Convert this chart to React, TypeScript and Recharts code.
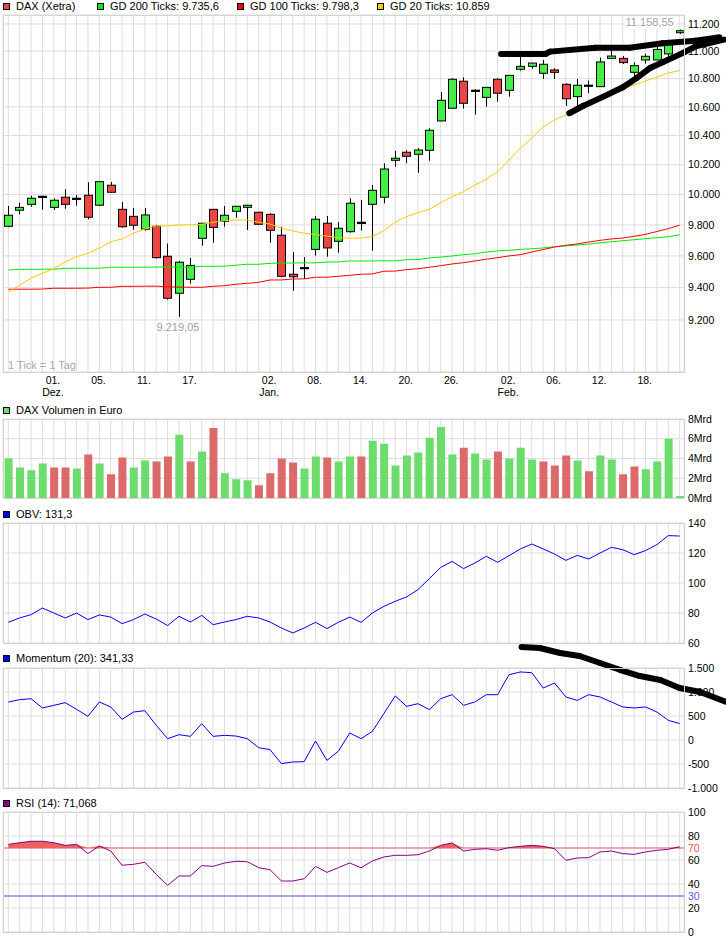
import React from "react";
import {
  Area,
  Bar,
  CartesianGrid,
  Cell,
  ComposedChart,
  Line,
  ReferenceDot,
  ReferenceLine,
  XAxis,
  YAxis,
} from "recharts";

// DAX (Xetra), one candle per trading day, late Nov 2014 .. Feb 2015
const opens = [
  9791, 9896, 9935, 9985, 9915, 9982, 9972, 9995, 9929, 10062,
  9902, 9856, 9772, 9791, 9598, 9365, 9452, 9713, 9902, 9824,
  9889, 9915, 9883, 9869, 9733, 9484, 9523, 9642, 9811, 9694,
  9756, 9814, 9935, 9982, 10230, 10285, 10271, 10298, 10501, 10590,
  10782, 10714, 10667, 10796, 10717, 10868, 10889, 10839, 10863, 10760,
  10672, 10750, 10743, 10947, 10947, 10846, 10935, 10935, 10979, 11135,
];
const highs = [
  9924, 9946, 9992, 9992, 9975, 10035, 9997, 10082, 10090, 10084,
  9950, 9911, 9911, 9800, 9679, 9568, 9587, 9812, 9903, 9924,
  9923, 9930, 9884, 9876, 9788, 9625, 9592, 9858, 9858, 9819,
  9975, 9964, 10064, 10210, 10294, 10300, 10314, 10450, 10705, 10803,
  10810, 10724, 10739, 10803, 10825, 10957, 10914, 10935, 10875, 10767,
  10798, 10786, 10953, 11008, 10964, 10918, 10981, 11030, 11074, 11158.55,
];
const lows = [
  9785, 9869, 9919, 9900, 9898, 9906, 9926, 9837, 9925, 10012,
  9782, 9769, 9763, 9583, 9325, 9219.05, 9425, 9666, 9685, 9788,
  9847, 9767, 9803, 9685, 9465, 9381, 9456, 9602, 9595, 9621,
  9750, 9763, 9634, 9942, 10187, 10210, 10146, 10227, 10500, 10589,
  10587, 10545, 10601, 10636, 10672, 10858, 10872, 10798, 10798, 10606,
  10606, 10696, 10742, 10946, 10906, 10773, 10909, 10934, 10946, 11126,
];
const closes = [
  9863, 9915, 9975, 9985, 9962, 9935, 9972, 9850, 10086, 10015,
  9788, 9798, 9865, 9589, 9334, 9560, 9540, 9811, 9784, 9863,
  9922, 9929, 9804, 9765, 9471, 9468, 9523, 9837, 9651, 9778,
  9942, 9814, 10028, 10171, 10244, 10257, 10300, 10436, 10646, 10796,
  10625, 10714, 10738, 10696, 10824, 10889, 10913, 10904, 10846, 10657,
  10753, 10750, 10921, 10964, 10916, 10894, 10962, 11012, 11048, 11150,
];
const gd20 = [
  9371, 9415, 9459, 9490, 9519, 9562, 9595, 9617, 9649, 9691,
  9709, 9746, 9774, 9793, 9793, 9800, 9800, 9804, 9817, 9828,
  9832, 9832, 9817, 9806, 9778, 9761, 9746, 9737, 9728, 9717,
  9714, 9714, 9724, 9763, 9817, 9854, 9880, 9902, 9946, 9986,
  10019, 10064, 10102, 10153, 10232, 10312, 10383, 10459, 10508, 10543,
  10578, 10613, 10648, 10691, 10727, 10755, 10784, 10811, 10841, 10859,
];
const gd100 = [
  9390, 9390, 9390, 9391, 9396, 9396, 9396, 9397, 9402, 9402,
  9408, 9408, 9409, 9409, 9405, 9403, 9402, 9402, 9408, 9412,
  9421, 9427, 9433, 9448, 9448, 9454, 9455, 9465, 9465, 9471,
  9477, 9484, 9486, 9503, 9504, 9513, 9519, 9528, 9538, 9549,
  9557, 9568, 9579, 9589, 9600, 9608, 9625, 9641, 9657, 9668,
  9677, 9689, 9700, 9709, 9715, 9726, 9739, 9757, 9776, 9798.3,
];
const gd200 = [
  9511, 9515, 9515, 9516, 9516, 9521, 9522, 9522, 9522, 9528,
  9528, 9528, 9529, 9529, 9530, 9530, 9530, 9534, 9534, 9535,
  9541, 9547, 9547, 9553, 9555, 9555, 9556, 9556, 9561, 9562,
  9568, 9568, 9568, 9569, 9569, 9576, 9577, 9587, 9593, 9600,
  9608, 9614, 9625, 9632, 9636, 9642, 9646, 9651, 9659, 9664,
  9670, 9676, 9684, 9691, 9698, 9704, 9711, 9717, 9724, 9735.6,
];
// Volumen in Mrd Euro
const volumes = [
  4.0, 3.1, 2.8, 3.5, 3.1, 3.1, 3.0, 4.4, 3.5, 2.4,
  4.1, 3.1, 3.8, 3.7, 4.2, 6.4, 3.7, 4.7, 7.1, 2.5,
  1.9, 1.8, 1.3, 2.5, 4.0, 3.6, 3.0, 4.2, 4.1, 3.7,
  4.2, 4.2, 5.8, 5.5, 3.3, 4.3, 4.6, 6.1, 7.2, 4.4,
  5.1, 4.5, 3.9, 4.7, 4.0, 5.1, 3.9, 3.7, 3.3, 4.3,
  3.8, 2.7, 4.3, 3.9, 2.4, 3.2, 2.9, 3.7, 6.0, 0.2,
];
const obv = [
  73.8, 76.7, 78.9, 83.3, 80.0, 76.7, 80.0, 75.6, 78.7, 77.3,
  72.9, 75.6, 79.3, 76.0, 71.6, 77.8, 74.0, 78.4, 72.2, 74.0,
  75.6, 77.8, 76.7, 74.0, 70.0, 66.7, 70.0, 73.8, 69.6, 73.8,
  77.3, 73.8, 80.0, 84.4, 87.8, 90.7, 95.6, 102.9, 110.4, 114.4,
  109.6, 113.3, 117.8, 113.8, 118.2, 122.7, 126.0, 122.7, 119.3, 115.1,
  118.4, 116.0, 120.0, 123.8, 122.2, 118.9, 121.6, 125.6, 131.6, 131.3,
];
const momentum = [
  791, 840, 861, 667, 722, 778, 639, 493, 792, 688,
  431, 583, 611, 306, 28, 111, 76, 340, 76, 97,
  83, 28, -160, -201, -493, -458, -451, -21, -424, -236,
  146, 28, 181, 549, 917, 701, 757, 632, 861, 944,
  722, 792, 944, 944, 1361, 1417, 1403, 1083, 1188, 896,
  826, 944, 896, 792, 688, 667, 688, 583, 410, 341.33,
];
const rsi = [
  73.0, 74.4, 75.6, 75.6, 74.4, 72.2, 73.0, 65.3, 71.7, 67.5,
  55.6, 56.4, 58.1, 48.0, 38.9, 46.7, 46.7, 55.3, 54.7, 57.5,
  58.9, 58.6, 53.6, 51.9, 42.5, 42.5, 44.4, 54.7, 49.7, 53.6,
  57.5, 53.6, 59.2, 62.5, 63.9, 63.9, 64.4, 67.5, 72.2, 74.2,
  67.5, 68.9, 69.4, 68.1, 70.3, 71.4, 72.2, 71.4, 69.4, 59.7,
  61.7, 61.9, 66.7, 67.5, 65.3, 64.7, 66.7, 68.1, 68.9, 71.068,
];

// date labels under the price chart
const tickIdx = [3, 7, 11, 15, 22, 26, 30, 34, 38, 43, 47, 51, 55];
const tickDays = ["01.", "05.", "11.", "17.", "02.", "08.", "14.", "20.", "26.", "02.", "06.", "12.", "18."];
const tickMonths = ["Dez.", "", "", "", "Jan.", "", "", "", "", "Feb.", "", "", ""];

const priceTicks = [9200, 9400, 9600, 9800, 10000, 10200, 10400, 10600, 10800, 11000, 11200];
const volTicks = [0, 2, 4, 6, 8];
const obvTicks = [60, 80, 100, 120, 140];
const momTicks = [-1000, -500, 0, 500, 1000, 1500];
const rsiTicks = [0, 20, 30, 40, 60, 70, 80, 100];

const mainLegend = [
  { label: "DAX (Xetra)", color: "#ee4444" },
  { label: "GD 200 Ticks: 9.735,6", color: "#00ee00" },
  { label: "GD 100 Ticks: 9.798,3", color: "#ff0000" },
  { label: "GD 20 Ticks: 10.859", color: "#ffcc00" },
];

// hand drawn trend strokes, in data coordinates [day index, value]
const upperStroke = [[43.3, 10979], [47.2, 10979], [47.6, 10996], [51.6, 11025], [54.6, 11025], [57.5, 11057], [60.4, 11076], [62.5, 11101]];
const lowerStroke = [[49.3, 10555], [50.5, 10606], [52.3, 10672], [54.0, 10739], [55.2, 10804], [56.4, 10877], [57.5, 10919], [59.3, 10987], [60.4, 11035], [62.9, 11084]];
const momStroke = [[45.1, 1937], [46.7, 1917], [48.5, 1812], [50.2, 1750], [52.0, 1604], [53.8, 1458], [55.5, 1333], [57.3, 1250], [59.0, 1083], [60.8, 1000], [63.1, 792]];

const rows = opens.map((open, i) => ({
  idx: i,
  open,
  high: highs[i],
  low: lows[i],
  close: closes[i],
  gd20: gd20[i],
  gd100: gd100[i],
  gd200: gd200[i],
  vol: volumes[i],
  up: i === 0 || closes[i] > closes[i - 1],
  obv: obv[i],
  mom: momentum[i],
  rsi: rsi[i],
}));
const allIdx = rows.map((r) => r.idx);

const FONT = '"Liberation Sans", Arial, sans-serif';
const FS = 10.5;
const GRID = "#dddddd";
const X_DOMAIN: [number, number] = [-0.466, 59.378];
const W = 726;
const MARGIN_L = 3;
const AXIS_W = 42;

const de = (n: number) => {
  const s = String(Math.abs(n)).replace(/\B(?=(\d{3})+(?!\d))/g, ".");
  return (n < 0 ? "-" : "") + s;
};

const maxHighIdx = highs.indexOf(Math.max(...highs));
const minLowIdx = lows.indexOf(Math.min(...lows));
const deDec = (n: number) => {
  const [a, b] = n.toFixed(2).split(".");
  return de(Number(a)) + "," + b;
};

const CandleShape = (props: any) => {
  const { x, y, width, height, payload } = props;
  if (x == null || y == null || !payload) return <g />;
  const top = Math.min(y, y + height);
  const h = Math.abs(height);
  const { open, close, high, low } = payload;
  const lh = Math.log(high);
  const span = lh - Math.log(low);
  const toY = (v: number) => top + (span > 0 ? ((lh - Math.log(v)) / span) * h : 0);
  const cx = Math.round(x + width / 2) + 0.5;
  const yo = toY(open);
  const yc = toY(close);
  const wick = <line x1={cx} y1={top} x2={cx} y2={top + h} stroke="#000" strokeWidth={1} />;
  if (open === close) {
    return (
      <g>
        {wick}
        <rect x={cx - 4.5} y={yo - 1} width={9} height={2.2} fill="#000" />
      </g>
    );
  }
  return (
    <g>
      {wick}
      <rect
        x={cx - 4}
        y={Math.min(yo, yc)}
        width={8}
        height={Math.max(1, Math.abs(yo - yc))}
        fill={close > open ? "#44ee44" : "#ee4444"}
        stroke="#000"
        strokeWidth={1}
      />
    </g>
  );
};

const DateTick = (props: any) => {
  const { x, y, payload } = props;
  const k = tickIdx.indexOf(payload.value);
  if (k < 0) return <g />;
  return (
    <g>
      <text x={x + 10.5} y={y + 12} textAnchor="middle" fontSize={FS} fill="#000">
        {tickDays[k]}
      </text>
      {tickMonths[k] ? (
        <text x={x + 10.5} y={y + 23.5} textAnchor="middle" fontSize={FS} fill="#000">
          {tickMonths[k]}
        </text>
      ) : null}
    </g>
  );
};

const RsiTick = (props: any) => {
  const { x, y, payload } = props;
  const v = payload.value;
  const fill = v === 70 ? "#f05050" : v === 30 ? "#5a5af0" : "#000";
  return (
    <text x={x} y={y} dy="0.355em" textAnchor="start" fontSize={FS} fill={fill}>
      {v}
    </text>
  );
};

const strokeLines = (pts: number[][], key: string) =>
  pts.slice(1).map((p, i) => (
    <ReferenceLine
      key={`${key}-${i}`}
      segment={[
        { x: pts[i][0], y: pts[i][1] },
        { x: p[0], y: p[1] },
      ]}
      stroke="#000"
      strokeWidth={6}
      strokeLinecap="round"
      ifOverflow="visible"
    />
  ));

function Legend({ items, top }: { items: { label: string; color: string; x?: number }[]; top: number }) {
  return (
    <>
      {items.map((it, i) => (
        <div
          key={i}
          style={{
            position: "absolute",
            left: it.x ?? 3,
            top,
            height: 12,
            display: "flex",
            alignItems: "center",
            fontSize: 11,
            whiteSpace: "nowrap",
          }}
        >
          <span
            style={{
              width: 5,
              height: 5,
              border: "1px solid #000",
              background: it.color,
              marginRight: 6,
              display: "inline-block",
            }}
          />
          {it.label}
        </div>
      ))}
    </>
  );
}

function Frame({ top, height }: { top: number; height: number }) {
  return (
    <div
      style={{
        position: "absolute",
        left: 2.5,
        top: top - 0.5,
        width: 682,
        height: height + 1,
        border: "1px solid #d4d4d4",
        boxSizing: "border-box",
        pointerEvents: "none",
      }}
    />
  );
}

export default function App() {
  const legendX = [3, 97, 237, 377];
  return (
    <div
      style={{
        position: "absolute",
        left: 0,
        top: 0,
        width: W,
        height: 940,
        background: "#fff",
        fontFamily: FONT,
        color: "#000",
      }}
    >
      <style>{`.recharts-wrapper, .recharts-surface { overflow: visible !important; }`}</style>

      {/* price chart */}
      <div style={{ position: "absolute", left: 0, top: 0 }}>
        <ComposedChart
          width={W}
          height={400}
          data={rows}
          margin={{ top: 15, right: 0, left: MARGIN_L, bottom: 0 }}
        >
          <CartesianGrid stroke={GRID} />
          <XAxis
            type="number"
            dataKey="idx"
            domain={X_DOMAIN}
            allowDataOverflow
            ticks={allIdx}
            interval={0}
            tick={<DateTick />}
            tickLine={false}
            axisLine={false}
            tickSize={0}
            tickMargin={0}
            height={28}
          />
          <YAxis
            orientation="right"
            scale="log"
            domain={[8887.4, 11267]}
            allowDataOverflow
            ticks={priceTicks}
            interval={0}
            tickFormatter={de}
            width={AXIS_W}
            tickLine={false}
            axisLine={false}
            tickSize={2}
            tickMargin={2}
            tick={{ fontSize: FS, fill: "#000" }}
          />
          <Line dataKey="gd200" stroke="#00ee00" strokeWidth={1} dot={false} activeDot={false} isAnimationActive={false} />
          <Line dataKey="gd100" stroke="#ff0000" strokeWidth={1} dot={false} activeDot={false} isAnimationActive={false} />
          <Line dataKey="gd20" stroke="#ffcc00" strokeWidth={1} dot={false} activeDot={false} isAnimationActive={false} />
          <Bar
            dataKey={(d: any) => [d.low, d.high]}
            barSize={9}
            shape={<CandleShape />}
            isAnimationActive={false}
          />
          <ReferenceDot
            x={minLowIdx}
            y={lows[minLowIdx]}
            r={1}
            ifOverflow="visible"
            shape={(p: any) => (
              <g>
                <rect x={p.cx - 23} y={p.cy + 4} width={44} height={13} fill="#fff" />
                <text x={p.cx - 1} y={p.cy + 14} textAnchor="middle" fontSize={11} fill="#a0a0a0">
                  {deDec(lows[minLowIdx])}
                </text>
              </g>
            )}
          />
          <ReferenceDot
            x={maxHighIdx}
            y={highs[maxHighIdx]}
            r={1}
            ifOverflow="visible"
            shape={(p: any) => (
              <g>
                <rect x={p.cx - 54} y={p.cy - 14} width={50} height={13} fill="#fff" />
                <text x={p.cx - 6} y={p.cy - 3.5} textAnchor="end" fontSize={11} fill="#a0a0a0">
                  {deDec(highs[maxHighIdx])}
                </text>
              </g>
            )}
          />
          {strokeLines(upperStroke, "up")}
          {strokeLines(lowerStroke, "lo")}
        </ComposedChart>
      </div>
      <Frame top={15} height={357} />
      <Legend items={mainLegend.map((m, i) => ({ ...m, x: legendX[i] }))} top={0} />
      <div style={{ position: "absolute", left: 8, top: 359, fontSize: 11, color: "#a8a8a8" }}>1 Tick = 1 Tag</div>

      {/* volume */}
      <div style={{ position: "absolute", left: 0, top: 400 }}>
        <ComposedChart
          width={W}
          height={100}
          data={rows}
          margin={{ top: 19, right: 0, left: MARGIN_L, bottom: 2 }}
        >
          <CartesianGrid stroke={GRID} />
          <XAxis type="number" dataKey="idx" domain={X_DOMAIN} allowDataOverflow ticks={allIdx} interval={0} hide />
          <YAxis
            orientation="right"
            domain={[0, 8]}
            ticks={volTicks}
            interval={0}
            tickFormatter={(v: number) => `${v}Mrd`}
            width={AXIS_W}
            tickLine={false}
            axisLine={false}
            tickSize={2}
            tickMargin={2}
            tick={{ fontSize: FS, fill: "#000" }}
          />
          <Bar dataKey="vol" barSize={8} isAnimationActive={false}>
            {rows.map((r) => (
              <Cell key={r.idx} fill={r.up ? "#6cdc6c" : "#dc6a6a"} />
            ))}
          </Bar>
        </ComposedChart>
      </div>
      <Frame top={419} height={79} />
      <Legend items={[{ label: "DAX Volumen in Euro", color: "#6cdc6c" }]} top={404} />

      {/* OBV */}
      <div style={{ position: "absolute", left: 0, top: 500 }}>
        <ComposedChart
          width={W}
          height={145}
          data={rows}
          margin={{ top: 23, right: 0, left: MARGIN_L, bottom: 2 }}
        >
          <CartesianGrid stroke={GRID} />
          <XAxis type="number" dataKey="idx" domain={X_DOMAIN} allowDataOverflow ticks={allIdx} interval={0} hide />
          <YAxis
            orientation="right"
            domain={[60, 140]}
            ticks={obvTicks}
            interval={0}
            width={AXIS_W}
            tickLine={false}
            axisLine={false}
            tickSize={2}
            tickMargin={2}
            tick={{ fontSize: FS, fill: "#000" }}
          />
          <Line dataKey="obv" stroke="#0000ff" strokeWidth={1} dot={false} activeDot={false} isAnimationActive={false} />
        </ComposedChart>
      </div>
      <Frame top={523} height={120} />
      <Legend items={[{ label: "OBV: 131,3", color: "#0000ee" }]} top={508} />

      {/* Momentum */}
      <div style={{ position: "absolute", left: 0, top: 645 }}>
        <ComposedChart
          width={W}
          height={145}
          data={rows}
          margin={{ top: 23, right: 0, left: MARGIN_L, bottom: 2 }}
        >
          <CartesianGrid stroke={GRID} />
          <XAxis type="number" dataKey="idx" domain={X_DOMAIN} allowDataOverflow ticks={allIdx} interval={0} hide />
          <YAxis
            orientation="right"
            domain={[-1000, 1500]}
            ticks={momTicks}
            interval={0}
            tickFormatter={de}
            width={AXIS_W}
            tickLine={false}
            axisLine={false}
            tickSize={2}
            tickMargin={2}
            tick={{ fontSize: FS, fill: "#000" }}
          />
          <Line dataKey="mom" stroke="#0000ff" strokeWidth={1} dot={false} activeDot={false} isAnimationActive={false} />
          {strokeLines(momStroke, "mo")}
        </ComposedChart>
      </div>
      <Frame top={668} height={120} />
      <Legend items={[{ label: "Momentum (20): 341,33", color: "#0000ee" }]} top={652} />

      {/* RSI */}
      <div style={{ position: "absolute", left: 0, top: 790 }}>
        <ComposedChart
          width={W}
          height={150}
          data={rows}
          margin={{ top: 22, right: 0, left: MARGIN_L, bottom: 8 }}
        >
          <CartesianGrid stroke={GRID} />
          <XAxis type="number" dataKey="idx" domain={X_DOMAIN} allowDataOverflow ticks={allIdx} interval={0} hide />
          <YAxis
            orientation="right"
            domain={[0, 100]}
            ticks={rsiTicks}
            interval={0}
            width={AXIS_W}
            tickLine={false}
            axisLine={false}
            tickSize={2}
            tickMargin={2}
            tick={<RsiTick />}
          />
          <Area
            dataKey={(d: any) => [70, Math.max(70, d.rsi)]}
            stroke="none"
            fill="#f06060"
            fillOpacity={1}
            dot={false}
            activeDot={false}
            isAnimationActive={false}
          />
          <ReferenceLine y={70} stroke="#f06060" strokeWidth={1} />
          <ReferenceLine y={30} stroke="#6060f0" strokeWidth={1} />
          <Line dataKey="rsi" stroke="#880088" strokeWidth={1} dot={false} activeDot={false} isAnimationActive={false} />
        </ComposedChart>
      </div>
      <Frame top={812} height={120} />
      <Legend items={[{ label: "RSI (14): 71,068", color: "#880088" }]} top={797} />
    </div>
  );
}
